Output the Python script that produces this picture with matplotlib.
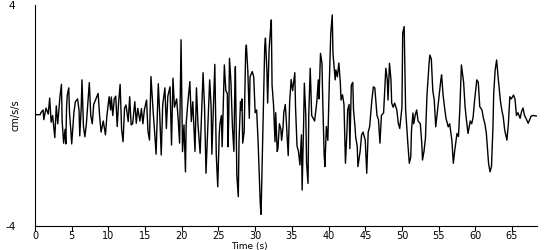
import numpy as np
import matplotlib
matplotlib.use('Agg')
import matplotlib.pyplot as plt

plt.rcParams['axes.unicode_minus'] = False

# values, turning points only (time in s, accel in cm/s/s)
t_a = [0.0, 0.7, 0.8, 1.1, 1.2, 1.5, 1.8, 2.0, 2.2, 2.4,
       2.7, 2.9, 3.1, 3.4, 3.6, 3.7, 3.9, 4.1, 4.2, 4.3,
       4.4, 4.6, 4.7, 4.9, 5.0, 5.3, 5.5, 5.8, 6.0, 6.1,
       6.3, 6.4, 6.6, 6.8, 7.0, 7.4, 7.6, 7.8, 8.0, 8.3,
       8.6, 8.8, 9.0, 9.3, 9.6, 9.8, 10.1, 10.3, 10.4, 10.6,
       10.8, 11.0, 11.2, 11.4, 11.6, 11.8, 12.0]
a_a = [0.03, 0.03, 0.10, 0.20, -0.15, 0.27, 0.05, 0.63, -0.24, 0.00,
       -0.80, 0.35, -0.30, 0.68, 1.13, -0.20, -1.00, -0.50, -1.03, 0.30,
       0.74, 1.00, 0.10, -0.60, -1.03, 0.10, 0.50, 0.60, 0.20, -0.74,
       0.30, 1.29, -0.40, -0.77, -0.30, 1.19, 0.00, -0.30, 0.40, 0.60,
       0.80, 0.00, -0.60, -0.20, -0.70, 0.00, 0.68, 0.20, 0.67, 0.00,
       0.60, 0.70, -0.40, 0.50, 1.13, -0.50, -0.95]

t_b = [12.2, 12.4, 12.7, 12.9, 13.1, 13.3, 13.6, 13.8, 14.0, 14.3,
       14.5, 14.7, 14.9, 15.2, 15.4, 15.6, 15.8, 16.1, 16.3, 16.5,
       16.8, 17.0, 17.2, 17.4, 17.7, 17.9, 18.1, 18.4, 18.6, 18.8,
       19.0, 19.3, 19.5, 19.7, 19.9, 20.1, 20.3, 20.5, 20.6, 20.8,
       21.1, 21.3, 21.5, 21.8, 22.0, 22.2, 22.5, 22.9, 23.1, 23.3,
       23.6, 23.8, 24.0, 24.1, 24.5]
a_b = [0.27, 0.38, -0.22, 0.68, -0.34, -0.30, 0.50, -0.28, 0.26, -0.20,
       0.25, -0.30, 0.20, 0.56, -0.59, -0.89, 1.41, 0.14, -0.60, -1.40,
       1.15, 0.00, -1.43, 0.38, 1.00, -0.47, 0.70, 1.04, -1.07, 1.35,
       0.30, 0.60, -0.10, -1.00, 2.74, -1.31, -0.34, -2.04, -0.30, 0.38,
       1.23, -0.22, 0.50, -1.30, 1.00, -0.30, -1.37, 1.55, 0.30, -2.09,
       0.00, 1.29, 0.30, -1.40, 1.85]

t_c = [24.7, 24.9, 25.1, 25.2, 25.4, 25.5, 25.7, 25.8, 26.0, 26.2,
       26.3, 26.4, 26.5, 26.7, 26.9, 27.1, 27.2, 27.3, 27.5, 27.7,
       27.8, 28.0, 28.1, 28.2, 28.3, 28.5, 28.7, 28.8, 29.0, 29.2,
       29.3, 29.6, 29.8, 30.0, 30.2, 30.4, 30.5, 30.7, 30.8, 31.0,
       31.2, 31.3, 31.4, 31.6, 31.7, 31.9, 32.1, 32.2, 32.3, 32.5,
       32.7, 32.8, 33.0, 33.1, 33.3, 33.5, 33.6, 33.8, 33.9, 34.1,
       34.2, 34.5, 34.7, 34.9, 35.1, 35.4, 35.5, 35.7, 35.9, 36.1,
       36.3, 36.4]
a_c = [-1.43, -2.58, -0.70, -0.30, 0.00, -1.13, 0.86, 1.83, 0.90, 0.80,
       -1.13, 0.00, 2.07, 1.20, -0.40, -1.30, 0.60, 1.77, -2.16, -2.94,
       -0.90, 0.50, 0.20, 0.60, -1.00, -0.60, 2.31, 2.55, 1.60, -0.10,
       1.40, 1.59, 1.40, 0.10, 0.20, -0.95, -1.70, -3.24, -3.58, -1.20,
       1.30, 2.49, 2.80, 1.60, 0.45, 2.40, 3.16, 3.46, 1.10, 0.40,
       -0.95, 0.10, -1.30, -1.20, -0.30, -0.50, -0.90, -0.40, 0.10, 0.40,
       0.00, -1.45, 0.50, 1.30, 0.90, 1.55, 0.30, -1.10, -1.30, -1.79,
       -0.70, -2.70]

t_d = [36.6, 36.7, 36.9, 37.0, 37.2, 37.3, 37.5, 37.7, 37.9, 38.1,
       38.4, 38.6, 38.7, 38.9, 39.1, 39.2, 39.4, 39.5, 39.7, 39.9,
       40.1, 40.3, 40.5, 40.6, 40.9, 41.0, 41.2, 41.4, 41.6, 41.7,
       41.9, 42.1, 42.3, 42.5, 42.6, 42.8, 42.9, 43.1, 43.3, 43.4,
       43.6, 43.7, 43.9, 44.0, 44.3, 44.5, 44.7, 45.0, 45.2, 45.4,
       45.6, 45.9, 46.1, 46.3, 46.6, 46.8, 47.0, 47.2, 47.5, 47.7,
       47.8, 48.0, 48.1, 48.3, 48.5, 48.6, 48.8, 49.0, 49.3, 49.5,
       49.7, 50.0, 50.1, 50.3, 50.4, 50.5, 50.8, 51.0]
a_d = [-0.30, 1.17, 0.00, -1.70, -2.46, 0.00, 1.71, 0.00, -0.10, -0.20,
       0.50, 1.29, 0.60, 2.25, 1.90, 0.60, -1.43, -1.85, -0.40, -0.90,
       1.17, 2.98, 3.64, 2.25, 1.29, 1.65, 1.40, 1.90, 1.20, 0.56,
       0.75, 0.40, -1.73, -0.60, 0.20, 0.40, -1.20, 1.10, 1.20, 0.20,
       -0.40, -0.80, -1.10, -1.85, -1.30, -0.70, -0.60, -0.90, -2.09, -0.60,
       -0.40, 0.56, 1.04, 1.00, 0.00, -0.15, -1.00, 0.00, 0.10, 1.17,
       1.71, 1.30, 0.56, 1.89, 1.30, 0.45, 0.30, 0.45, 0.20, -0.28,
       -0.47, 0.30, 2.98, 3.22, 1.65, 0.20, -1.00, -1.73]

t_e = [51.2, 51.3, 51.5, 51.6, 51.8, 52.0, 52.2, 52.5, 52.7, 52.8,
       53.0, 53.2, 53.4, 53.7, 53.8, 54.0, 54.2, 54.4, 54.5, 54.6,
       54.8, 55.1, 55.3, 55.4, 55.6, 55.8, 56.0, 56.1, 56.3, 56.5,
       56.8, 57.0, 57.2, 57.5, 57.7, 57.9, 58.1, 58.4, 58.6, 58.8,
       59.0, 59.3, 59.5, 59.7, 59.9, 60.2, 60.4, 60.6, 60.9, 61.1,
       61.3, 61.5, 61.8, 62.0, 62.2, 62.4, 62.5, 62.7, 62.9, 63.1,
       63.4, 63.6, 63.8, 64.0, 64.3, 64.5, 64.7, 64.9, 65.2, 65.4,
       65.6, 65.8, 66.1, 66.3, 66.5, 66.7, 66.9, 67.2, 67.4, 67.6,
       67.9, 68.3]
a_e = [-1.50, -0.53, 0.09, -0.30, 0.00, 0.20, -0.20, -0.30, -1.00, -1.61,
       -1.30, -0.83, 0.70, 1.90, 2.19, 2.05, 0.90, 0.56, 0.08, -0.41,
       0.08, 0.80, 1.29, 1.47, 0.75, 0.30, -0.10, -0.20, -0.41, -0.30,
       -0.90, -1.73, -1.25, -0.65, -0.76, 0.32, 1.83, 1.20, 0.32, -0.20,
       -0.65, -0.20, -0.30, -0.05, 0.56, 1.29, 1.20, 0.32, 0.20, -0.10,
       -0.30, -0.65, -1.73, -2.04, -1.85, -0.40, 0.80, 1.65, 2.01, 1.40,
       0.56, 0.20, -0.05, -0.53, -0.89, -0.30, 0.68, 0.60, 0.74, 0.60,
       0.00, 0.10, -0.10, 0.15, 0.27, 0.00, -0.10, -0.28, -0.15, -0.02,
       0.00, -0.02]

x_ticks = [0, 5, 10, 15, 20, 25, 30, 35, 40, 45, 50, 55, 60, 65]
y_ticks = [-4, 4]

time = np.concatenate([t_a, t_b, t_c, t_d, t_e])
accel = np.concatenate([a_a, a_b, a_c, a_d, a_e])

fig = plt.figure(figsize=(5.5, 2.5), dpi=100)
ax = fig.add_axes([35/550, 1-226/250, 502/550, 221/250])

ax.plot(time, accel, color='black', lw=1.0)

ax.set_xlim(0, 68.4)
ax.set_ylim(-4, 4)
ax.spines['top'].set_visible(False)
ax.spines['right'].set_visible(False)
ax.set_xticks(x_ticks)
ax.set_yticks(y_ticks)
ax.tick_params(axis='x', length=3.5, width=0.8, pad=0, labelsize=7)
ax.tick_params(axis='y', length=0, pad=14, labelsize=7.5)

fig.text(249/550, -0.005, 'Time (s)', ha='center', va='bottom', fontsize=6.5)
fig.text(15/550, 0.54, 'cm/s/s', ha='center', va='center', rotation=90, fontsize=7)

fig.savefig('out.png', dpi=100)
